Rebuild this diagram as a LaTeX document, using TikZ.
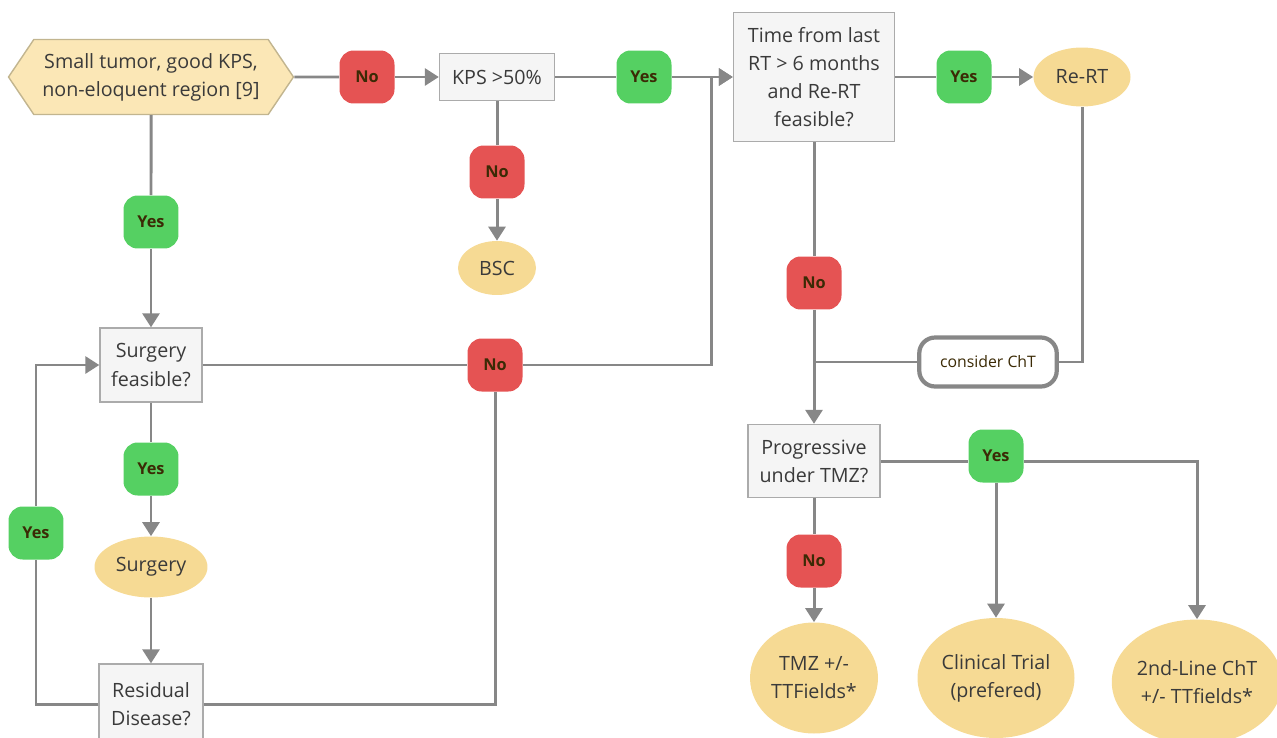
\documentclass[tikz,border=0pt]{standalone}
\usepackage{fontspec}
\setmainfont{Open Sans}
\usetikzlibrary{shapes.geometric,shapes.symbols,arrows.meta,positioning}
\definecolor{linegray}{HTML}{878787}
\definecolor{boxfill}{HTML}{F5F5F5}
\definecolor{boxline}{HTML}{ABABAB}
\definecolor{ovalfill}{HTML}{F6DA94}
\definecolor{hexfill}{HTML}{FBE7B6}
\definecolor{hexline}{HTML}{C2B58F}
\definecolor{yesgreen}{HTML}{55D062}
\definecolor{nored}{HTML}{E55353}
\definecolor{lbltext}{HTML}{3B2A05}
\definecolor{maintext}{HTML}{3A3A3A}

\begin{document}
\begin{tikzpicture}[x=0.02cm, y=-0.02cm,
    box/.style={draw=boxline, fill=boxfill, line width=0.8pt, align=center, inner sep=0pt, text=maintext, font=\fontsize{11.2}{16}\selectfont},
    oval/.style={ellipse, fill=ovalfill, align=center, inner sep=0pt, text=maintext, font=\fontsize{11.2}{16}\selectfont},
    hexa/.style={signal, signal to=west and east, signal pointer angle=112, draw=hexline, fill=hexfill, line width=0.8pt, align=center, inner sep=0pt, text=maintext, font=\fontsize{11.2}{16}\selectfont},
    yes/.style={fill=yesgreen, rounded corners=8pt, minimum width=1.1cm, minimum height=1.06cm, inner sep=0pt, text=lbltext, font=\fontsize{9.3}{11}\selectfont\bfseries},
    no/.style={yes, fill=nored},
    note/.style={draw=linegray, line width=2.4pt, fill=white, rounded corners=9pt, minimum width=2.75cm, minimum height=0.98cm, inner sep=0pt, text=lbltext, font=\fontsize{9}{11}\selectfont},
    line/.style={draw=linegray, line width=1.7pt},
    arrow/.style={line, -{Triangle[length=0.28cm, width=0.34cm]}}
]
\useasboundingbox (0,0) rectangle (1277,737);

% Top row
\node[hexa, minimum width=5.7cm, minimum height=1.5cm] (start) at (151,77) {Small tumor, good KPS,\\non-eloquent region [9]};
\node[no] (no1) at (367,77) {No};
\node[box, minimum width=2.3cm, minimum height=0.94cm] (kps) at (497,77) {KPS >50\%};
\node[yes] (yes1) at (644,77) {Yes};
\node[box, minimum width=3.22cm, minimum height=2.58cm] (time) at (814,77) {Time from last\\RT > 6 months\\and Re-RT\\feasible?};
\node[yes] (yes2) at (964,77) {Yes};
\node[oval, minimum width=1.94cm, minimum height=1.18cm] (rert) at (1082,77) {Re-RT};

% BSC branch
\node[no] (no2) at (497,172) {No};
\node[oval, minimum width=1.56cm, minimum height=1.08cm] (bsc) at (497,268) {BSC};

% Surgery branch
\node[yes] (yes3) at (151,222) {Yes};
\node[box, minimum width=2.04cm, minimum height=1.48cm] (surgfeas) at (151,365) {Surgery\\feasible?};
\node[no] (no3) at (495,365) {No};
\node[yes] (yes5) at (151,469) {Yes};
\node[oval, minimum width=2.26cm, minimum height=1.22cm] (surgery) at (151,567) {Surgery};
\node[box, minimum width=2.08cm, minimum height=1.6cm] (resid) at (151,704) {Residual\\Disease?};
\node[yes] (yes4) at (36,533) {Yes};
\coordinate (j1) at (711,77);

% Re-irradiation branch
\node[no] (no4) at (814,283) {No};
\node[note] (cht) at (988,362) {consider ChT};
\node[box, minimum width=2.64cm, minimum height=1.46cm] (prog) at (814,461) {Progressive\\under TMZ?};
\node[yes] (yes6) at (996,456) {Yes};
\node[no] (no5) at (814,561) {No};
\node[oval, minimum width=2.56cm, minimum height=2.22cm] (tmz) at (814,678) {TMZ +/-\\TTFields*};
\node[oval, minimum width=3.14cm, minimum height=2.4cm] (trial) at (996,678) {Clinical Trial\\(prefered)};
\node[oval, minimum width=3.4cm, minimum height=2.5cm] (second) at (1197,682) {2nd-Line ChT\\+/- TTfields*};

% Connectors
\draw[line] (start) -- (no1);
\draw[arrow] (no1) -- (kps);
\draw[line] (kps) -- (yes1);
\draw[arrow] (yes1) -- (time);
\draw[line] (time) -- (yes2);
\draw[arrow] (yes2) -- (rert);
\draw[line] (kps) -- (no2);
\draw[arrow] (no2) -- (bsc);
\draw[line] (start) -- (yes3);
\draw[arrow] (yes3) -- (surgfeas);
\draw[line] (surgfeas) -- (no3);
\draw[arrow] (no3) -| (j1) -- (time);
\draw[line] (resid) -| (no3);
\draw[line] (resid) -| (yes4);
\draw[arrow] (yes4) |- (surgfeas);
\draw[line] (surgfeas) -- (yes5);
\draw[arrow] (yes5) -- (surgery);
\draw[arrow] (surgery) -- (resid);
\draw[line] (time) -- (no4);
\draw[arrow] (no4) -- (prog);
\draw[line] (rert) |- (cht);
\draw[line] (cht) -- (cht -| no4);
\draw[line] (prog.east |- 0,461) -- (yes6.west |- 0,461);
\draw[arrow] (yes6) -- (trial);
\draw[arrow] (yes6.east |- 0,461) -| (second);
\draw[line] (prog) -- (no5);
\draw[arrow] (no5) -- (tmz);

\end{tikzpicture}
\end{document}
